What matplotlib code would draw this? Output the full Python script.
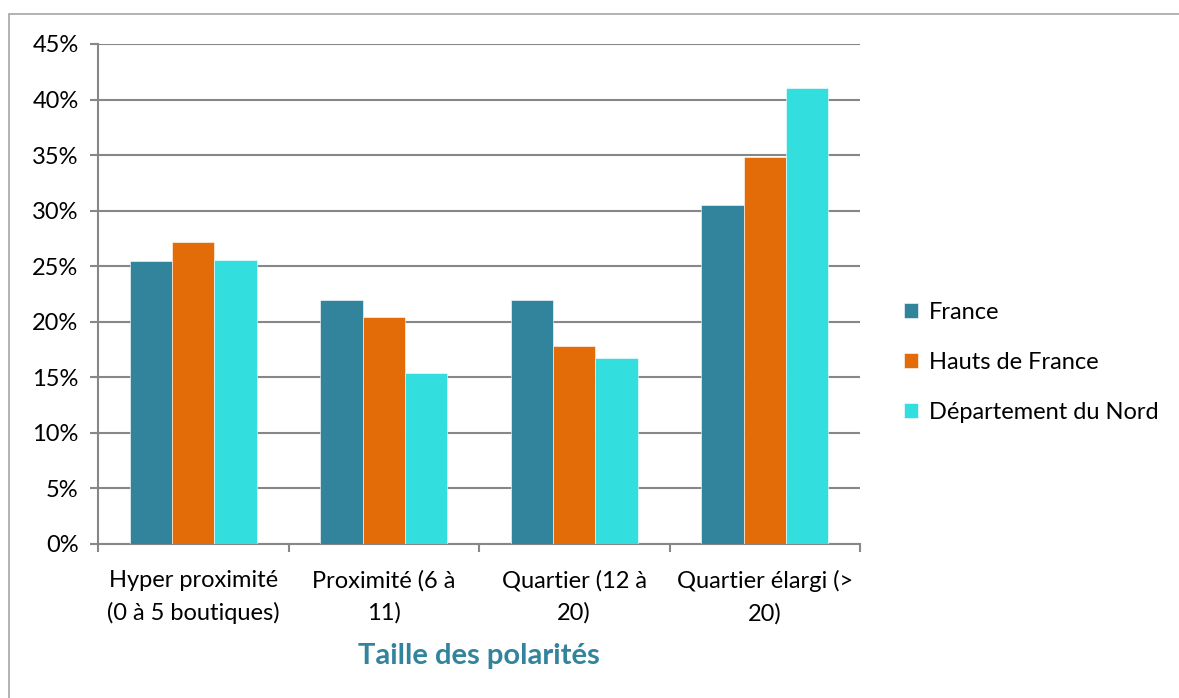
import matplotlib.pyplot as plt
import numpy as np
from matplotlib.patches import Rectangle
from matplotlib.ticker import FixedLocator, PercentFormatter

categories = ["Hyper proximité\n(0 à 5 boutiques)", "Proximité (6 à\n11)",
              "Quartier (12 à\n20)", "Quartier élargi (>\n20)"]
series = ["France", "Hauts de France", "Département du Nord"]
france = [25.5, 22.0, 22.0, 30.5]
hauts = [27.2, 20.4, 17.8, 34.8]
nord = [25.6, 15.4, 16.7, 41.0]
colors = ["#31849B", "#E36C09", "#33DEDE"]

plt.rcParams['font.family'] = ['Lato', 'DejaVu Sans']

fig = plt.figure(figsize=(11.79, 6.98), dpi=100)
ax = fig.add_axes([98/1179, 1-544/698, (860-98)/1179, 500/698])

# light frame round the chart area
fig.patches.append(Rectangle((9/1179, -0.1), 1.2, 1.1 - 14/698,
                             transform=fig.transFigure, fill=False,
                             edgecolor="#A6A6A6", linewidth=1.2))

x = np.arange(len(categories))
w = 0.222
for i, (vals, name) in enumerate(zip([france, hauts, nord], series)):
    ax.bar(x + (i - 1) * w, vals, w, color=colors[i], label=name,
           edgecolor="white", linewidth=0.4, zorder=3)

ax.set_xlim(-0.5, 3.5)
ax.set_ylim(0, 45)
ax.set_yticks(np.arange(0, 46, 5))
ax.yaxis.set_major_formatter(PercentFormatter(decimals=0))
ax.grid(axis="y", color="#878787", linewidth=1.5, zorder=0)

ax.set_xticks(x)
ax.set_xticklabels(categories, fontsize=17, linespacing=1.6)
ax.xaxis.set_minor_locator(FixedLocator(np.arange(-0.5, 3.6, 1)))
ax.tick_params(axis="x", which="major", length=0, pad=19)
ax.tick_params(axis="x", which="minor", length=6, width=1.5, color="#878787")
ax.tick_params(axis="y", length=6, width=1.5, color="#878787", labelsize=17, pad=8)

for s in ["top", "right"]:
    ax.spines[s].set_visible(False)
ax.spines["left"].set_color("#878787")
ax.spines["left"].set_linewidth(1.5)
ax.spines["bottom"].set_color("#878787")
ax.spines["bottom"].set_linewidth(1.5)

ax.set_xlabel("Taille des polarités", fontsize=21, fontweight="bold",
              color="#31849B", labelpad=13)

ax.legend(loc="center left", bbox_to_anchor=(1.045, 0.363), frameon=False,
          fontsize=17, handlelength=0.6, handleheight=0.6,
          handletextpad=0.45, labelspacing=1.22, borderaxespad=0)

fig.savefig("out.png", dpi=100)
